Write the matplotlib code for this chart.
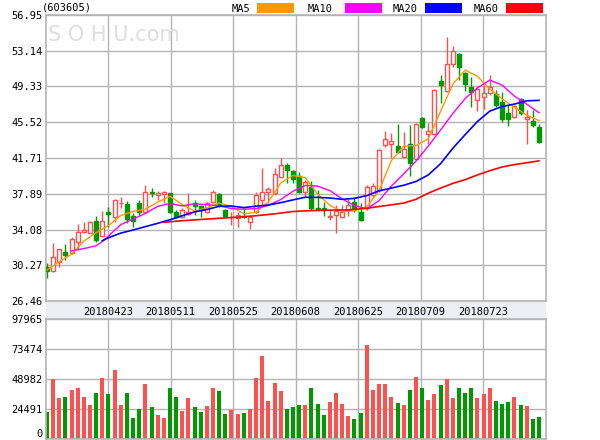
import numpy as np
import matplotlib
matplotlib.use("Agg")
import matplotlib.pyplot as plt
from matplotlib.patches import Rectangle

stock_code = "(603605)"
date_labels = ["20180423", "20180511", "20180525", "20180608",
               "20180625", "20180709", "20180723"]
price_ticks = [26.46, 30.27, 34.08, 37.89, 41.71, 45.52, 49.33, 53.14, 56.95]
vol_ticks = [0, 24491, 48982, 73474, 97965]

opens = [30.12, 29.70, 30.65, 31.70, 31.54, 32.79, 33.86, 33.75, 34.99, 33.43,
         35.95, 35.38, 36.90, 36.80, 35.52, 36.95, 35.99, 38.05, 37.73, 37.83,
         37.94, 35.92, 35.45, 35.74, 36.87, 36.59, 35.99, 37.05, 37.87, 36.17,
         35.38, 35.27, 35.52, 34.92, 35.99, 37.23, 38.12, 37.94, 39.65, 40.96,
         40.32, 39.79, 38.12, 38.58, 36.34, 36.41, 35.45, 35.63, 35.45, 36.17,
         37.05, 35.99, 36.34, 37.76, 38.30, 43.09, 43.20, 42.99, 41.85, 43.20,
         41.56, 45.93, 44.23, 44.23, 49.95, 48.88, 51.73, 52.79, 50.73, 49.31,
         47.89, 48.24, 48.60, 48.49, 47.71, 46.54, 46.04, 47.96, 45.82, 45.69,
         44.97]
highs = [30.48, 32.61, 32.04, 32.50, 33.32, 34.67, 34.92, 35.03, 35.52, 36.06,
         36.52, 37.30, 37.58, 37.16, 35.81, 37.23, 38.83, 38.47, 38.22, 38.22,
         38.01, 36.17, 36.34, 37.94, 37.23, 36.70, 37.05, 38.30, 37.94, 36.24,
         36.00, 35.99, 36.34, 35.63, 38.12, 40.61, 38.65, 40.61, 41.67, 41.14,
         40.43, 40.25, 39.36, 39.25, 38.30, 37.05, 36.17, 36.70, 36.70, 37.30,
         37.58, 36.87, 38.83, 39.01, 42.63, 44.62, 44.34, 45.33, 44.52, 45.22,
         45.40, 46.11, 45.40, 49.03, 50.55, 54.57, 53.64, 52.93, 50.91, 50.37,
         49.38, 49.49, 50.55, 48.95, 48.78, 47.35, 47.35, 48.06, 46.82, 46.82,
         45.33]
lows = [28.95, 29.59, 30.12, 30.83, 31.47, 31.90, 33.75, 33.68, 32.79, 33.39,
        34.39, 34.92, 36.34, 34.74, 34.39, 35.63, 35.81, 37.58, 37.23, 36.87,
        35.81, 35.27, 35.27, 35.63, 35.63, 35.38, 35.81, 36.87, 36.52, 35.45,
        34.56, 34.31, 35.27, 34.10, 35.81, 36.70, 36.87, 37.76, 39.65, 39.01,
        39.01, 38.01, 37.58, 36.17, 36.17, 35.52, 35.10, 33.68, 35.27, 35.52,
        35.99, 35.03, 36.17, 37.58, 38.12, 42.92, 41.67, 42.20, 41.67, 39.80,
        41.49, 44.87, 43.15, 44.16, 47.60, 48.78, 51.44, 50.02, 48.90, 47.11,
        46.75, 46.89, 48.42, 47.17, 45.58, 45.12, 45.93, 46.29, 43.20, 45.04,
        43.27]
closes = [29.70, 31.19, 31.97, 31.40, 33.04, 33.82, 34.03, 34.88, 32.97, 34.99,
          35.70, 37.23, 36.95, 35.20, 34.99, 35.99, 38.05, 37.94, 38.01, 38.12,
          35.99, 35.45, 36.17, 35.99, 36.63, 36.17, 36.87, 38.12, 36.70, 35.56,
          35.45, 35.63, 35.38, 35.45, 37.76, 38.12, 38.37, 40.00, 40.96, 40.43,
          39.50, 38.12, 39.11, 36.34, 36.17, 36.17, 35.52, 36.06, 35.99, 36.70,
          36.17, 35.10, 38.58, 38.72, 42.56, 43.70, 43.56, 42.38, 42.63, 41.21,
          45.33, 45.04, 44.58, 48.95, 49.49, 51.73, 53.15, 51.44, 49.59, 48.78,
          49.03, 48.60, 49.31, 47.35, 45.82, 45.82, 47.25, 46.47, 46.04, 45.22,
          43.45]
volumes = [21700, 49200, 32900, 33700, 39700, 41100, 34500, 27200, 37800, 50000,
           36200, 56600, 27200, 37800, 16600, 23900, 45100, 25600, 19000, 16600,
           41100, 33700, 22300, 32900, 25600, 21500, 26400, 41100, 39400, 19800,
           23100, 19800, 20700, 23900, 50000, 68000, 30500, 46000, 39400, 23900,
           25600, 27200, 27200, 41100, 28000, 19000, 29600, 37000, 28000, 18200,
           15800, 20700, 77000, 40200, 45100, 45100, 34500, 28800, 27200, 40200,
           50900, 41100, 31300, 36200, 44300, 49200, 32900, 41100, 37000, 41900,
           32900, 36200, 41100, 30500, 28000, 29600, 34500, 27200, 26400, 15800,
           17400]

ma5_at = list(range(0, 81, 2))
ma5 = [29.77, 30.65, 31.46, 32.85, 33.75, 34.51, 35.57, 36.01, 36.24, 37.00,
       37.62, 36.75, 36.05, 36.37, 36.90, 36.54, 35.74, 35.93, 37.02, 39.04,
       39.85, 39.62, 37.85, 36.66, 35.98, 36.09, 36.51, 38.23, 41.42, 42.97,
       43.02, 43.76, 46.68, 49.58, 51.08, 50.40, 49.06, 48.02, 47.11, 46.28,
       45.69]
ma10_at = [4, 6, 8, 9] + list(range(10, 81, 2))
ma10 = [31.80, 32.05, 32.35, 32.80, 33.40, 34.60, 35.20, 35.80, 36.55, 36.85,
        36.59, 36.83, 36.73, 36.62, 36.31, 36.25, 36.31, 36.65, 37.27, 38.16,
        38.78, 38.71, 38.23, 37.34, 36.64, 36.28, 37.16, 38.71, 40.01, 41.38,
        42.97, 44.69, 46.45, 48.05, 49.18, 50.01, 49.48, 48.30, 47.45, 46.53]
ma20_at = [9] + list(range(10, 81, 2))
ma20 = [32.89, 33.20, 33.70, 34.03, 34.39, 34.74, 35.12, 35.55, 35.96, 36.21,
        36.56, 36.58, 36.42, 36.57, 36.69, 36.94, 37.24, 37.52, 37.51, 37.44,
        37.30, 37.40, 37.70, 38.20, 38.50, 38.80, 39.20, 39.90, 41.10, 42.75,
        44.20, 45.60, 46.70, 47.20, 47.45, 47.80, 47.85]
ma60_at = [19, 22, 25, 28, 31, 34, 37, 40, 43, 46, 49, 52, 55, 58,
           60, 62, 64, 66, 68, 70, 72, 74, 76, 78, 80]
ma60 = [34.85, 35.02, 35.15, 35.28, 35.40, 35.55, 35.75, 36.00, 36.10, 36.15,
        36.17, 36.35, 36.62, 36.90, 37.30, 37.95, 38.50, 39.00, 39.40, 39.90,
        40.35, 40.75, 41.00, 41.20, 41.40]

RED = "#ff5050"
GREEN = "#009a00"
GRID = "#b4b4b4"
FONT = "DejaVu Sans Mono"
FS = 7.5

o = np.array(opens); h = np.array(highs); l = np.array(lows); c = np.array(closes)
x = np.arange(len(c))
up = c >= o
cols = np.where(up, RED, GREEN)

fig = plt.figure(figsize=(6, 4.4), dpi=100)
ax = fig.add_axes([45.5 / 600, 139 / 440, 500 / 600, 286 / 440])
axv = fig.add_axes([45.5 / 600, 1.5 / 440, 500 / 600, 119.2 / 440])

# date band between the two panels
fig.patches.append(Rectangle((45.5 / 600, 120.7 / 440), 500 / 600, 18.3 / 440,
                             transform=fig.transFigure, facecolor="#eeeef6",
                             edgecolor="none", zorder=-5))

xlim = (-0.24, 81.06)
gridx = np.linspace(xlim[0], xlim[1], 9)
w = 0.65

# candles
ax.vlines(x, l, h, colors=cols, lw=1, zorder=2)
for i in range(len(c)):
    bot = min(o[i], c[i])
    ht = max(abs(c[i] - o[i]), 0.02)
    if up[i]:
        ax.add_patch(Rectangle((i - w / 2, bot), w, ht, facecolor="white",
                               edgecolor=RED, lw=1, zorder=3))
    else:
        ax.add_patch(Rectangle((i - w / 2, bot), w, ht, facecolor=GREEN,
                               edgecolor=GREEN, lw=1, zorder=3))

ax.plot(ma5_at, ma5, color="#ff9900", lw=1, zorder=4)
ax.plot(ma10_at, ma10, color="#ff00ff", lw=1, zorder=4)
ax.plot(ma20_at, ma20, color="#0000ff", lw=1.2, zorder=4)
ax.plot(ma60_at, ma60, color="#ff0000", lw=1.2, zorder=4)

ax.set_xlim(xlim)
ax.set_ylim(price_ticks[0], price_ticks[-1])
ax.set_yticks(price_ticks)
ax.set_yticklabels([f"{t:.2f}" for t in price_ticks])
ax.set_xticks(gridx[1:-1])
ax.set_xticklabels(date_labels)

ax.text(0.004, 0.965, "S O H U.com", transform=ax.transAxes, ha="left", va="top",
        fontsize=15, color="#dedede", family="DejaVu Sans", zorder=1)

# volume
axv.bar(x, volumes, width=w, color=cols, zorder=2)
axv.set_xlim(xlim)
axv.set_ylim(0, vol_ticks[-1])
axv.set_yticks(vol_ticks)
axv.set_yticklabels([str(v) for v in vol_ticks])
axv.set_xticks(gridx[1:-1])
axv.set_xticklabels([])

for a in (ax, axv):
    a.grid(True, color=GRID, lw=1)
    a.set_axisbelow(True)
    for s in a.spines.values():
        s.set_color(GRID)
        s.set_linewidth(1.2)
    a.tick_params(length=0, pad=2, labelsize=FS)
    for t in a.get_xticklabels() + a.get_yticklabels():
        t.set_family(FONT)
ax.tick_params(axis="x", pad=4)
axv.get_yticklabels()[0].set_va("bottom")

# title and legend
fig.text(42 / 600, 1 - 8 / 440, stock_code, ha="left", va="center",
         fontsize=FS, family=FONT)
legend = [("MA5", "#ff9900", 232, 257), ("MA10", "#ff00ff", 308, 345),
          ("MA20", "#0000ff", 393, 425), ("MA60", "#ff0000", 474, 506)]
for name, col, tx, px in legend:
    fig.text(tx / 600, 1 - 8.5 / 440, name, ha="left", va="center",
             fontsize=FS, family=FONT)
    fig.patches.append(Rectangle((px / 600, 1 - 13.5 / 440), 36.5 / 600, 10.5 / 440,
                                 transform=fig.transFigure, facecolor=col,
                                 edgecolor="none"))

fig.savefig("out.png", dpi=100)
